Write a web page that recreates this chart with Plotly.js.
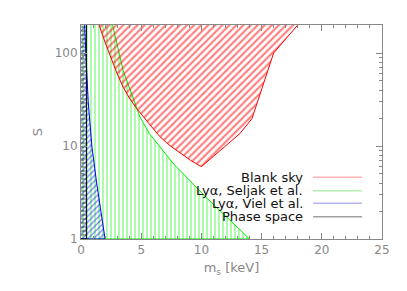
<!DOCTYPE html>
<html><head><meta charset="utf-8">
<script src="https://cdn.plot.ly/plotly-3.0.1.min.js"></script>
<style>html,body{margin:0;padding:0;background:#fff;}#chart{width:407px;height:291px;}</style>
</head><body><div id="chart"></div>
<script>
// Boundaries of excluded regions (m_s in keV, S dimensionless)
const seljakMass = [0, 2.45, 3.5, 4.9, 5.7, 7.7, 10.4, 14.0, 0];
const seljakS    = [250, 250, 65, 20.5, 13.5, 6.4, 2.8, 1.0, 1.0];

const blankSkyMass = [1.3, 1.5, 2.0, 2.5, 3.0, 3.5, 4.0, 4.6, 5.2, 5.8, 6.5, 7.3, 8.2, 9.1, 10.0, 11.5, 13.2, 14.2, 16.0, 18.0, 18.8];
const blankSkyS    = [250, 200, 130, 86, 60, 43, 33, 25.5, 20.5, 16.5, 12.8, 10.3, 8.4, 7.0, 6.0, 8.9, 13.6, 19.7, 100, 200, 250];

const vielMass = [0, 0.3, 0.4, 0.6, 0.9, 1.3, 2.0, 0];
const vielS    = [250, 200, 100, 30, 10, 4, 1.0, 1.0];

const phaseMass = [0, 0.45, 0.45, 0];
const phaseS    = [250, 250, 1.0, 1.0];

const legendLabels = ['Blank sky', 'Lyα, Seljak et al.', 'Lyα, Viel et al.', 'Phase space'];
const legendColors = ['#ffb4b4', '#b4eeb4', '#b4b4ee', '#a0a0a0'];

const xTicks = [0, 5, 10, 15, 20, 25];
const yTicks = [1, 10, 100];

function region(x, y, line, fg, shape, size, sol) {
  return {
    x: x, y: y, type: 'scatter', mode: 'lines', fill: 'toself',
    fillcolor: 'rgba(0,0,0,0)',
    line: {color: line, width: 1},
    fillpattern: {shape: shape, fgcolor: fg, bgcolor: 'rgba(0,0,0,0)', fillmode: 'overlay', size: size, solidity: sol},
    hoverinfo: 'skip', showlegend: false
  };
}

const traces = [
  region(seljakMass, seljakS, '#00ee00', '#00ee00', '|', 4, 0.32),
  region(blankSkyMass, blankSkyS, '#ff0000', '#ff0000', '/', 5, 0.42),
  region(vielMass, vielS, '#0000ff', '#0000ff', '/', 4, 0.32),
  region(phaseMass, phaseS, '#000000', '#000000', '-', 4, 0.3)
];

const legFont = {family: 'DejaVu Sans, sans-serif', size: 13, color: '#111'};
const legY = [0.288, 0.226, 0.167, 0.104];
const annotations = legendLabels.map((t, i) => ({
  text: t, xref: 'paper', yref: 'paper', x: 0.744, y: legY[i],
  xanchor: 'right', yanchor: 'middle', showarrow: false,
  font: legFont
}));
const shapes = legendColors.map((c, i) => ({
  type: 'line', xref: 'paper', yref: 'paper', x0: 0.771, x1: 0.934, y0: legY[i], y1: legY[i],
  line: {color: c, width: 1.5}
}));

const axisFont = {family: 'DejaVu Sans, sans-serif', size: 12, color: '#888'};
const titleFont = {family: 'DejaVu Sans, sans-serif', size: 13, color: '#888'};

const layout = {
  width: 407, height: 291,
  margin: {l: 81, r: 25, t: 25, b: 52},
  paper_bgcolor: '#fff', plot_bgcolor: '#fff',
  showlegend: false,
  font: axisFont,
  xaxis: {
    range: [0, 25], tickvals: xTicks, ticktext: xTicks.map(String),
    ticks: 'inside', ticklen: 6, tickcolor: '#888', mirror: 'ticks',
    showline: true, linecolor: '#888', linewidth: 1,
    showgrid: false, zeroline: false,
    minor: {dtick: 1, ticks: 'inside', ticklen: 3, tickcolor: '#888', showgrid: false},
    tickfont: axisFont,
    title: {text: 'm<sub>s</sub> [keV]', font: titleFont, standoff: 6}
  },
  yaxis: {
    type: 'log', range: [0, Math.log10(200)],
    tickvals: yTicks, ticktext: yTicks.map(String),
    ticks: 'inside', ticklen: 6, tickcolor: '#888', mirror: 'ticks',
    showline: true, linecolor: '#888', linewidth: 1,
    showgrid: false, zeroline: false,
    minor: {tickvals: [2,3,4,5,6,7,8,9,20,30,40,50,60,70,80,90,200], ticks: 'inside', ticklen: 3, tickcolor: '#888', showgrid: false},
    tickfont: axisFont,
    automargin: true,
    title: {text: 'S', font: titleFont, standoff: 9}
  },
  annotations: annotations,
  shapes: shapes
};

Plotly.newPlot('chart', traces, layout, {displayModeBar: false, staticPlot: true});
</script>
</body></html>
